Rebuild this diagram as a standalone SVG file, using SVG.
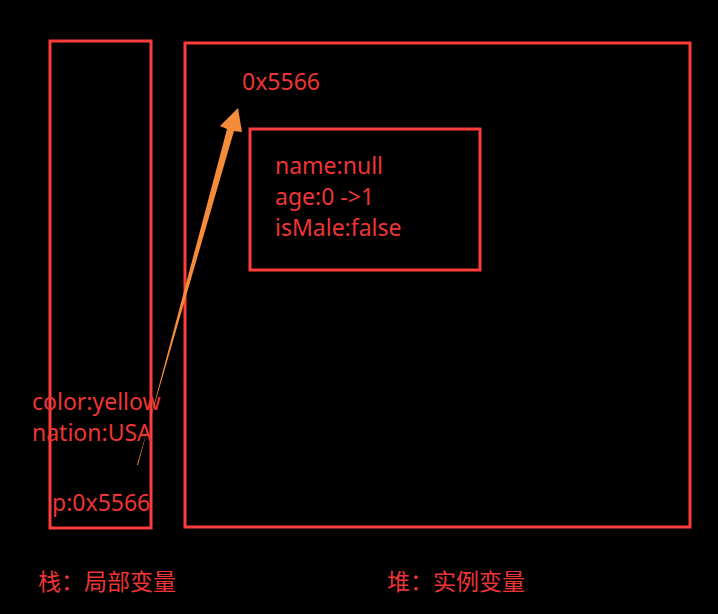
<svg xmlns="http://www.w3.org/2000/svg" width="718" height="614" viewBox="0 0 718 614">
<style>
.box{fill:none;stroke:#ff3b3b;stroke-width:3}
.t{fill:#ee3535;font-family:"Noto Sans","Noto Sans CJK SC",sans-serif;font-size:23px}
.c{fill:#ee3535;font-family:"Noto Sans CJK SC",sans-serif;font-size:23px}
</style>
<rect width="718" height="614" fill="#000"/>
<g id="stack">
<rect class="box" x="50" y="41" width="101" height="487"/>
<text class="t" x="32" y="410">color:yellow</text>
<text class="t" x="32" y="441">nation:USA</text>
<text class="t" x="52" y="511">p:0x5566</text>
</g>
<g id="heap">
<rect class="box" x="185" y="43" width="505" height="484"/>
<text class="t" x="242" y="90">0x5566</text>
</g>
<g id="object">
<rect class="box" x="250" y="129" width="230" height="141"/>
<text class="t" x="275" y="174">name:null</text>
<text class="t" x="275" y="205">age:0 -&gt;1</text>
<text class="t" x="275" y="236">isMale:false</text>
</g>
<g id="labels">
<text class="c" x="38" y="590">栈：局部变量</text>
<text class="c" x="387" y="590">堆：实例变量</text>
</g>
<g id="connectors">
<polygon fill="#f58c3a" points="137,465 138,465 227,129 220,126 238,108 242,132 234,131"/>
</g>
</svg>
